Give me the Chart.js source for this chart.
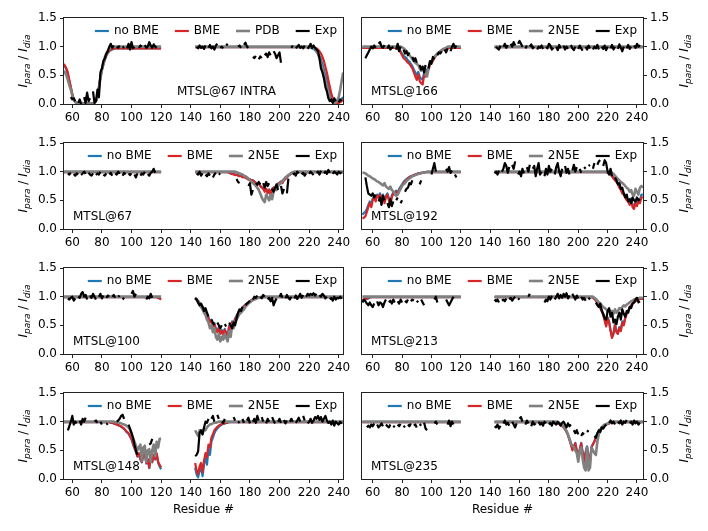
<!DOCTYPE html>
<html lang="en">
<head>
<meta charset="UTF-8" />
<title>PRE profiles</title>
<script src="https://cdn.jsdelivr.net/npm/chart.js"></script>
<style>
  html, body { margin: 0; padding: 0; background: #fff; }
  #wrap { position: relative; width: 708px; height: 531px; }
  #wrap canvas { position: absolute; }
  #problems { position: absolute; left: 0; top: 0; color: red; font: 12px sans-serif; }
</style>
</head>
<body>
<div id="wrap"></div>
<div id="problems"></div>
<script>
const _ = null;

// residues 53..120 (segment A) and 143..244 (segment B); 121..142 not covered
const xTicks = [60, 80, 100, 120, 140, 160, 180, 200, 220, 240];
const yTicks = [0, 0.5, 1.0, 1.5];
const GAP = Array(22).fill(null);
const residues = [];
for (let r = 53; r <= 244; r++) residues.push(r);

const problems = [];
function seg(name, a, b) {
  if (a.length !== 68 || b.length !== 102) problems.push(name + ': ' + a.length + '/' + b.length);
  return a.concat(GAP, b);
}

// ---- MTSL@67 INTRA ----
const p1NoBme = seg('p1NoBme', [.7,.68,
  .66,.6,.52,.4,.28,.17,.08,.03,.02,.01,
  .01,.01,.01,.01,.01,.01,.01,.01,.01,.01,
  .02,.05,.14,.28,.46,.58,.68,.77,.84,.89,
  .92,.94,.95,.96,.97,.97,.97,.97,.97,.97,
  .97,.97,.97,.97,.97,.97,.97,.97,.97,.97,
  .97,.97,.97,.97,.97,.97,.97,.97,.97,.97,
  .97,.97,.97,.97,.97,.97], [
  .99,.99,.99,.99,.99,.99,.99,.99,.99,.99,
  .99,.99,.99,.99,.99,.99,.99,.99,.99,.99,
  .99,.99,.99,.99,.99,.99,.99,.99,.99,.99,
  .99,.99,.99,.99,.99,.99,.99,.99,.99,.99,
  .99,.99,.99,.99,.99,.99,.99,.99,.99,.99,
  .99,.99,.99,.99,.99,.99,.99,.99,.99,.99,
  .99,.99,.99,.99,.99,.99,.99,.99,.99,.99,
  .99,.99,.99,.99,.99,.99,.99,.99,.98,.97,
  .96,.94,.91,.88,.84,.78,.7,.6,.5,.4,
  .3,.2,.12,.07,.04,.03,.03,.04,.06,.09,
  .12,.15]);
const p1Bme = seg('p1Bme', [.72,.7,
  .67,.62,.55,.42,.3,.18,.08,.03,.02,.01,
  .01,.01,.01,.01,.01,.01,.01,.01,.01,.01,
  .02,.05,.15,.3,.48,.6,.7,.78,.85,.9,
  .93,.95,.96,.97,.97,.97,.97,.97,.97,.97,
  .97,.97,.97,.97,.97,.97,.97,.97,.97,.97,
  .97,.97,.97,.97,.97,.97,.97,.97,.97,.97,
  .97,.97,.97,.97,.97,.97], [
  .99,.99,.99,.99,.99,.99,.99,.99,.99,.99,
  .99,.99,.99,.99,.99,.99,.99,.99,.99,.99,
  .99,.99,.99,.99,.99,.99,.99,.99,.99,.99,
  .99,.99,.99,.99,.99,.99,.99,.99,.99,.99,
  .99,.99,.99,.99,.99,.99,.99,.99,.99,.99,
  .99,.99,.99,.99,.99,.99,.99,.99,.99,.99,
  .99,.99,.99,.99,.99,.99,.99,.99,.99,.99,
  .99,.99,.99,.99,.99,.99,.99,.99,.99,.99,
  .99,.98,.97,.95,.92,.88,.82,.75,.65,.55,
  .42,.3,.18,.1,.05,.03,.02,.02,.03,.05,
  .08,.1]);
const p1Ref = seg('p1Ref', [.6,.58,
  .55,.5,.42,.33,.25,.15,.08,.04,.02,.01,
  .01,.01,.02,.01,.01,.01,.02,.01,.01,.01,
  .02,.05,.12,.28,.45,.6,.72,.82,.88,.93,
  .96,.98,1,1,1,1,1,1,1,1,
  1,1,1,1,1,1,1,1,1,1,
  1,1,1,1,1,1,1,1,1,1,
  1,1,1,1,1,1], [
  1,1,1,1,1,1,1,1,1,1,
  1,1,1,1,1,1,1,1,1,1,
  1,1,1,1,1,1,1,1,1,1,
  1,1,1,1,1,1,1,1,1,1,
  1,1,1,1,1,1,1,1,1,1,
  1,1,1,1,1,1,1,1,1,1,
  1,1,1,1,1,1,1,1,1,1,
  1,1,1,1,1,1,1,1,1,1,
  .98,.96,.92,.87,.8,.72,.62,.5,.4,.3,
  .2,.12,.06,.03,.02,.03,.06,.12,.25,.4,
  .55,.62]);
const p1Exp = seg('p1Exp', [_,_,
  _,_,_,_,.12,.08,.1,.05,_,.02,
  .08,0,_,.12,.02,.2,.05,.1,_,.22,
  .02,.05,.25,.12,.55,.62,.75,.8,.88,.92,
  1,1.05,.98,1.02,_,1,.98,1.02,_,.98,
  1,_,.97,1.05,.95,1.08,.97,1,_,_,
  .98,1.02,1,_,1.03,.98,1,1.08,1.02,.98,
  1.04,1,.98,_,_,_], [
  _,1,.97,1.02,.98,1,.96,1.02,_,.98,
  1.03,.97,1,.95,1.02,1.05,_,.98,1,.97,
  _,1.02,1.05,_,_,_,_,_,_,1,
  1.02,.98,_,1.03,1.07,1,.98,_,_,.82,
  .8,.84,_,.78,.83,.8,_,.85,.88,.82,
  .9,.85,_,.92,.88,.8,.85,.9,.72,_,
  _,_,_,_,_,.98,1.02,_,.97,1,
  1.03,.98,1,.97,1.02,_,.96,1,1.05,.98,
  1.02,.98,.95,.92,.8,.62,.55,.45,.3,.22,
  .1,.05,.08,.02,.1,.05,_,.03,.08,.05,
  _,_]);

// ---- MTSL@166 ----
const p2NoBme = seg('p2NoBme', [.98,.98,
  .98,.98,.98,.98,.98,.98,.98,.98,.98,.98,
  .98,.98,.98,.98,.98,.98,.98,.98,.98,.98,
  .98,.97,.96,.95,.92,.88,.84,.82,.8,.76,
  .74,.7,.66,.6,.55,.5,.56,.48,.44,.42,
  .55,.52,.6,.62,.7,.74,.77,.82,.85,.88,
  .9,.92,.94,.95,.96,.97,.98,.98,.98,.98,
  .98,.98,.98,.98,.98,.98], [
  .99,.99,.99,.99,.99,.99,.99,.99,.99,.99,
  .99,.99,.99,.99,.99,.99,.99,.99,.99,.99,
  .99,.99,.99,.99,.99,.99,.99,.99,.99,.99,
  .99,.99,.99,.99,.99,.99,.99,.99,.99,.99,
  .99,.99,.99,.99,.99,.99,.99,.99,.99,.99,
  .99,.99,.99,.99,.99,.99,.99,.99,.99,.99,
  .99,.99,.99,.99,.99,.99,.99,.99,.99,.99,
  .99,.99,.99,.99,.99,.99,.99,.99,.99,.99,
  .99,.99,.99,.99,.99,.99,.99,.99,.99,.99,
  .99,.99,.99,.99,.99,.99,.99,.99,.99,.99,
  .99,.99]);
const p2Bme = seg('p2Bme', [.98,.98,
  .98,.98,.98,.98,.98,.98,.98,.98,.98,.98,
  .98,.98,.98,.98,.98,.98,.98,.98,.98,.98,
  .98,.97,.96,.94,.9,.85,.8,.78,.75,.72,
  .7,.66,.62,.55,.48,.42,.52,.4,.36,.34,
  .5,.48,.55,.6,.68,.72,.75,.8,.84,.87,
  .9,.92,.93,.95,.96,.97,.97,.98,.98,.98,
  .98,.98,.98,.98,.98,.98], [
  .99,.99,.99,.99,.99,.99,.99,.99,.99,.99,
  .99,.99,.99,.99,.99,.99,.99,.99,.99,.99,
  .99,.99,.99,.99,.99,.99,.99,.99,.99,.99,
  .99,.99,.99,.99,.99,.99,.99,.99,.99,.99,
  .99,.99,.99,.99,.99,.99,.99,.99,.99,.99,
  .99,.99,.99,.99,.99,.99,.99,.99,.99,.99,
  .99,.99,.99,.99,.99,.99,.99,.99,.99,.99,
  .99,.99,.99,.99,.99,.99,.99,.99,.99,.99,
  .99,.99,.99,.99,.99,.99,.99,.99,.99,.99,
  .99,.99,.99,.99,.99,.99,.99,.99,.99,.99,
  .99,.99]);
const p2Ref = seg('p2Ref', [1,1,
  1,1,1,1,1,1,1,1,1,1,
  1,1,1,1,1,1,1,1,1,1,
  1,1,1,1,1,.99,.97,.95,.92,.88,
  .85,.82,.78,.75,.72,.7,.68,.62,.58,.65,
  .6,.52,.48,.62,.72,.75,.78,.82,.85,.88,
  .9,.92,.94,.96,.97,.98,1,1,1,1,
  1,1,1,1,1,1], [
  1,1,1,1,1,1,1,1,1,1,
  1,1,1,1,1,1,1,1,1,1,
  1,1,1,1,1,1,1,1,1,1,
  1,1,1,1,1,1,1,1,1,1,
  1,1,1,1,1,1,1,1,1,1,
  1,1,1,1,1,1,1,1,1,1,
  1,1,1,1,1,1,1,1,1,1,
  1,1,1,1,1,1,1,1,1,1,
  1,1,1,1,1,1,1,1,1,1,
  1,1,1,1,1,1,1,1,1,1,
  1,1]);
const p2Exp = seg('p2Exp', [_,_,
  .8,.85,.9,.95,1,.97,1.02,.98,_,1.05,
  1.08,1,.98,1.03,_,.97,1.02,.95,.98,1,
  _,.95,1.05,.92,1,_,.95,.88,.92,.85,
  .9,_,.82,.75,.8,.72,_,.68,.6,.65,
  .55,.68,_,.62,.75,.7,.82,.78,_,.85,
  .9,.88,.92,_,.95,.9,.97,_,.92,1,
  1.05,.98,1.02,_,_,_], [
  _,1,.97,.95,1.02,_,1,1.05,.98,1.03,
  _,1.05,1,1.08,1.02,_,1.05,1.1,1.05,1,
  _,.97,1.02,_,1,1.04,.97,1,_,.95,
  1,.98,1.02,.96,_,1,.97,1.05,1.02,.95,
  .98,_,1,.94,1.03,.97,_,1.02,.95,1,
  .96,_,1.03,.97,.94,1,_,.96,1.02,.97,
  .93,_,1,.95,1.02,.97,_,.95,1,.97,
  1.03,.95,_,1,.96,1.02,.94,1,_,.97,
  1.03,.95,1,_,.96,1.04,.98,.92,1,_,
  .97,1.03,.96,1,_,1.02,.98,1.05,1,1.03,
  _,_]);

// ---- MTSL@67 ----
const p3NoBme = seg('p3NoBme', [.99,.99,
  .99,.99,.99,.99,.99,.99,.99,.99,.99,.99,
  .99,.99,.99,.99,.99,.99,.99,.99,.99,.99,
  .99,.99,.99,.99,.99,.99,.99,.99,.99,.99,
  .99,.99,.99,.99,.99,.99,.99,.99,.99,.99,
  .99,.99,.99,.99,.99,.99,.99,.99,.99,.99,
  .99,.99,.99,.99,.99,.99,.99,.99,.99,.99,
  .99,.99,.99,.99,.99,.99], [
  .99,.99,.99,.99,.99,.99,.99,.99,.99,.99,
  .99,.99,.99,.99,.99,.99,.99,.99,.99,.99,
  .99,.99,.99,.98,.97,.96,.96,.95,.95,.94,
  .93,.93,.91,.91,.9,.89,.87,.87,.85,.85,
  .83,.81,.79,.8,.76,.73,.71,.67,.7,.64,
  .69,.62,.7,.72,.7,.76,.79,.81,.83,.82,
  .86,.88,.9,.93,.95,.97,.98,.99,.99,.99,
  .99,.99,.99,.99,.99,.99,.99,.99,.99,.99,
  .99,.99,.99,.99,.99,.99,.99,.99,.99,.99,
  .99,.99,.99,.99,.99,.99,.99,.99,.99,.99,
  .99,.99]);
const p3Bme = seg('p3Bme', [.99,.99,
  .99,.99,.99,.99,.99,.99,.99,.99,.99,.99,
  .99,.99,.99,.99,.99,.99,.99,.99,.99,.99,
  .99,.99,.99,.99,.99,.99,.99,.99,.99,.99,
  .99,.99,.99,.99,.99,.99,.99,.99,.99,.99,
  .99,.99,.99,.99,.99,.99,.99,.99,.99,.99,
  .99,.99,.99,.99,.99,.99,.99,.99,.99,.99,
  .99,.99,.99,.99,.99,.99], [
  .99,.99,.99,.99,.99,.99,.99,.99,.99,.99,
  .99,.99,.99,.99,.99,.99,.99,.99,.99,.99,
  .99,.99,.99,.98,.97,.96,.95,.94,.95,.93,
  .92,.93,.9,.91,.89,.88,.86,.87,.84,.85,
  .82,.8,.78,.8,.75,.72,.7,.65,.7,.62,
  .68,.6,.7,.72,.68,.75,.78,.8,.82,.8,
  .85,.87,.9,.93,.95,.97,.98,.99,.99,.99,
  .99,.99,.99,.99,.99,.99,.99,.99,.99,.99,
  .99,.99,.99,.99,.99,.99,.99,.99,.99,.99,
  .99,.99,.99,.99,.99,.99,.99,.99,.99,.99,
  .99,.99]);
const p3Ref = seg('p3Ref', [1,1,
  1,1,1,1,1,1,1,1,1,1,
  1,1,1,1,1,1,1,1,1,1,
  1,1,1,1,1,1,1,1,1,1,
  1,1,1,1,1,1,1,1,1,1,
  1,1,1,1,1,1,1,1,1,1,
  1,1,1,1,1,1,1,1,1,1,
  1,1,1,1,1,1], [
  1,1,1,1,1,1,1,1,1,1,
  1,1,1,1,1,1,1,1,1,1,
  1,1,1,1,1,1,1,1,.99,.98,
  .97,.96,.95,.93,.92,.9,.88,.85,.82,.8,
  .78,.75,.72,.68,.62,.55,.5,.47,.6,.55,
  .5,.6,.52,.65,.7,.68,.75,.78,.8,.84,
  .87,.9,.92,.94,.96,.98,.99,1,1,1,
  1,1,1,1,1,1,1,1,1,1,
  1,1,1,1,1,1,1,1,1,1,
  1,1,1,1,1,1,1,1,1,1,
  1,1]);
const p3Exp = seg('p3Exp', [_,_,
  _,_,.97,.95,.98,_,.96,.93,.97,.95,
  _,.94,.97,1,.96,_,.98,.95,.93,.97,
  _,.94,.97,.95,1,_,.95,.93,.97,_,
  .95,.98,.93,_,.97,.95,1,.96,_,.93,
  .98,.95,_,.97,.94,.97,_,.95,.9,.97,
  _,.93,.97,.95,1,_,.96,.93,.98,1,
  1.05,.98,_,_,_,_], [
  _,.97,.95,1,.93,.97,_,.95,.92,.97,
  .93,_,.9,.95,.98,_,.97,.95,_,_,
  _,_,_,_,_,_,_,_,.87,.82,
  .8,_,_,_,_,_,.75,.8,.6,.68,
  _,.8,.77,.82,.78,_,.8,.72,.82,.75,
  .8,_,.7,.65,.72,.78,.68,_,.75,.62,
  .7,_,.62,.88,_,_,.95,.97,.93,1,
  .97,_,.95,.98,.93,.97,_,.96,1,.97,
  .94,_,.98,1,.95,1.02,_,.97,1,.96,
  1.03,.98,_,.96,1,.98,.95,1,.97,.99,
  _,_]);

// ---- MTSL@192 ----
const p4NoBme = seg('p4NoBme', [.25,.28,
  .3,.35,.42,.48,.42,.53,.57,.52,.6,.58,
  .62,.54,.6,.5,.58,.62,.54,.48,.58,.64,
  .63,.67,.63,.7,.74,.78,.82,.85,.87,.89,
  .91,.92,.93,.94,.95,.96,.97,.97,.98,.98,
  .99,.99,.99,.99,.99,.99,.99,.99,.99,.99,
  .99,.99,.99,.99,.99,.99,.99,.99,.99,.99,
  .99,.99,.99,.99,.99,.99], [
  .99,.99,.99,.99,.99,.99,.99,.99,.99,.99,
  .99,.99,.99,.99,.99,.99,.99,.99,.99,.99,
  .99,.99,.99,.99,.99,.99,.99,.99,.99,.99,
  .99,.99,.99,.99,.99,.99,.99,.99,.99,.99,
  .99,.99,.99,.99,.99,.99,.99,.99,.99,.99,
  .99,.99,.99,.99,.99,.99,.99,.99,.99,.99,
  .99,.99,.99,.99,.99,.99,.99,.99,.99,.99,
  .99,.99,.99,.99,.99,.99,.99,.98,.97,.96,
  .93,.9,.87,.84,.8,.75,.7,.65,.62,.58,
  .54,.5,.46,.53,.42,.4,.48,.44,.52,.5,
  .6,.6]);
const p4Bme = seg('p4Bme', [.18,.2,
  .22,.3,.38,.45,.38,.5,.55,.48,.58,.55,
  .6,.5,.58,.45,.55,.6,.5,.42,.55,.62,
  .6,.65,.6,.68,.72,.76,.8,.83,.86,.88,
  .9,.92,.93,.94,.95,.96,.97,.97,.98,.98,
  .99,.99,.99,.99,.99,.99,.99,.99,.99,.99,
  .99,.99,.99,.99,.99,.99,.99,.99,.99,.99,
  .99,.99,.99,.99,.99,.99], [
  .99,.99,.99,.99,.99,.99,.99,.99,.99,.99,
  .99,.99,.99,.99,.99,.99,.99,.99,.99,.99,
  .99,.99,.99,.99,.99,.99,.99,.99,.99,.99,
  .99,.99,.99,.99,.99,.99,.99,.99,.99,.99,
  .99,.99,.99,.99,.99,.99,.99,.99,.99,.99,
  .99,.99,.99,.99,.99,.99,.99,.99,.99,.99,
  .99,.99,.99,.99,.99,.99,.99,.99,.99,.99,
  .99,.99,.99,.99,.99,.99,.99,.98,.97,.95,
  .92,.88,.85,.82,.78,.72,.68,.62,.6,.55,
  .5,.48,.42,.5,.38,.35,.45,.4,.48,.45,
  .55,.55]);
const p4Ref = seg('p4Ref', [.98,.98,
  .97,.95,.93,.92,.9,.88,.87,.85,.83,.82,
  .8,.78,.76,.8,.74,.72,.7,.74,.68,.66,
  .62,.58,.6,.65,.7,.75,.78,.8,.84,.86,
  .88,.9,.92,.93,.94,.95,.96,.97,.97,.98,
  .98,.99,1,1,1,1,1,1,1,1,
  1,1,1,1,1,1,1,1,1,1,
  1,1,1,1,1,1], [
  1,1,1,1,1,1,1,1,1,1,
  1,1,1,1,1,1,1,1,1,1,
  1,1,1,1,1,1,1,1,1,1,
  1,1,1,1,1,1,1,1,1,1,
  1,1,1,1,1,1,1,1,1,1,
  1,1,1,1,1,1,1,1,1,1,
  1,1,1,1,1,1,1,1,1,1,
  1,1,1,1,1,1,1,1,1,.99,
  .98,.96,.93,.9,.87,.85,.82,.8,.78,.75,
  .72,.7,.65,.68,.6,.58,.7,.65,.6,.72,
  .75,.72]);
const p4Exp = seg('p4Exp', [_,_,
  .9,.75,.62,.6,.58,.62,.55,.6,_,.48,
  .55,.42,.58,.5,_,.45,.38,.52,.4,.48,
  _,.5,.55,_,.45,.5,_,.65,.7,.72,
  .8,.78,.85,_,_,_,_,.78,.85,_,
  _,_,_,_,_,.95,1.05,1.15,1,_,
  _,_,_,_,_,1.05,1,1.08,.98,1.02,
  _,.95,.9,_,_,_], [
  .97,1,.95,1.02,_,1,1.05,1.15,1.1,.98,
  1.08,_,1.12,1.05,1.18,_,.95,1,.92,1.05,
  .97,_,1.08,1,1.12,_,1.05,1.1,.92,1.05,
  1.15,.95,1,_,.92,1.05,.95,1.1,1,1.05,
  _,.95,1.08,1.15,1,.92,1.05,_,1.1,.98,
  1.05,.95,_,1.02,1.12,1,1.08,_,1.05,.98,
  _,1.08,1.05,_,1.1,1.12,_,1.05,1.15,_,
  1.12,1.18,1.2,_,1.1,1.2,1.15,1,.95,1.05,
  .92,_,.9,.85,.78,.8,.7,.72,.62,.55,
  .6,.48,.52,.45,.55,.5,.48,.55,.5,.52,
  _,_]);

// ---- MTSL@100 ----
const p5NoBme = seg('p5NoBme', [.99,.99,
  .99,.99,.99,.99,.99,.99,.99,.99,.99,.99,
  .99,.99,.99,.99,.99,.99,.99,.99,.99,.99,
  .99,.99,.99,.99,.99,.99,.99,.99,.99,.99,
  .99,.99,.99,.99,.99,.99,.99,.99,.99,.99,
  .99,.99,.99,.99,.99,.99,.99,.99,.99,.99,
  .99,.99,.99,.99,.99,.99,.99,.99,.99,.99,
  .99,.99,.99,.98,.97,.96], [
  .98,.96,.93,.89,.86,.83,.79,.75,.7,.64,
  .57,.6,.5,.54,.44,.4,.47,.37,.42,.35,
  .44,.37,.32,.5,.42,.57,.54,.62,.67,.71,
  .75,.78,.81,.84,.86,.88,.9,.92,.94,.95,
  .96,.97,.98,.99,.99,.99,.99,.99,.99,.99,
  .99,.99,.99,.99,.99,.99,.99,.99,.99,.99,
  .99,.99,.99,.99,.99,.99,.99,.99,.99,.99,
  .99,.99,.99,.99,.99,.99,.99,.99,.99,.99,
  .99,.99,.99,.99,.99,.99,.99,.99,.99,.99,
  .99,.99,.99,.99,.99,.99,.99,.99,.99,.99,
  .99,.99]);
const p5Bme = seg('p5Bme', [.99,.99,
  .99,.99,.99,.99,.99,.99,.99,.99,.99,.99,
  .99,.99,.99,.99,.99,.99,.99,.99,.99,.99,
  .99,.99,.99,.99,.99,.99,.99,.99,.99,.99,
  .99,.99,.99,.99,.99,.99,.99,.99,.99,.99,
  .99,.99,.99,.99,.99,.99,.99,.99,.99,.99,
  .99,.99,.99,.99,.99,.99,.99,.99,.99,.99,
  .99,.99,.99,.98,.97,.95], [
  .98,.96,.92,.88,.85,.82,.78,.74,.68,.62,
  .55,.58,.48,.52,.42,.38,.45,.35,.4,.33,
  .42,.35,.3,.48,.4,.55,.52,.6,.65,.7,
  .74,.77,.8,.83,.86,.88,.9,.92,.94,.95,
  .96,.97,.98,.99,.99,.99,.99,.99,.99,.99,
  .99,.99,.99,.99,.99,.99,.99,.99,.99,.99,
  .99,.99,.99,.99,.99,.99,.99,.99,.99,.99,
  .99,.99,.99,.99,.99,.99,.99,.99,.99,.99,
  .99,.99,.99,.99,.99,.99,.99,.99,.99,.99,
  .99,.99,.99,.99,.99,.99,.99,.99,.99,.99,
  .99,.99]);
const p5Ref = seg('p5Ref', [1,1,
  1,1,1,1,1,1,1,1,1,1,
  1,1,1,1,1,1,1,1,1,1,
  1,1,1,1,1,1,1,1,1,1,
  1,1,1,1,1,1,1,1,1,1,
  1,1,1,1,1,1,1,1,1,1,
  1,1,1,1,1,1,1,1,1,1,
  1,1,1,1,1,1], [
  .98,.95,.9,.85,.82,.78,.72,.68,.6,.55,
  .45,.5,.38,.45,.3,.25,.35,.22,.3,.25,
  .35,.28,.22,.4,.3,.5,.45,.55,.6,.65,
  .7,.72,.75,.78,.82,.85,.88,.9,.92,.94,
  .95,.96,.97,.98,.99,1,1,1,1,1,
  1,1,1,1,1,1,1,1,1,1,
  1,1,1,1,1,1,1,1,1,1,
  1,1,1,1,1,1,1,1,1,1,
  1,1,1,1,1,1,1,1,1,1,
  1,1,1,1,1,1,1,1,1,1,
  1,1]);
const p5Exp = seg('p5Exp', [_,_,
  _,_,.97,.95,.98,1,.93,.97,_,1,
  .98,1.05,1.08,1,1.03,.95,_,1.02,.98,1.05,
  1,.95,_,1,1.05,.97,1.02,_,.98,1.02,
  1,_,1,1.03,.98,_,1,1.02,_,.95,
  .98,_,_,_,_,1.05,1.1,1,1.05,_,
  _,_,_,_,_,.95,1,.97,1.05,.98,
  _,_,_,_,_,_], [
  .97,.95,.9,.85,.88,.82,.75,.8,.72,.65,
  _,.6,.55,.5,_,.55,.5,.45,.5,_,
  .52,.48,_,.55,.5,.45,.55,.5,.62,.72,
  .78,.75,.82,_,.85,.88,.9,.93,_,.95,
  1,.98,1.02,_,1,.97,1.03,1,_,.95,
  .98,.92,.98,.85,.92,.97,_,1,1.05,.98,
  _,.97,1.03,.98,.95,1,_,.97,1.02,.96,
  1,1.05,.98,1.03,_,1,1.05,1.02,1.05,1.03,
  1.06,1.02,1.05,_,1.03,1,1.05,1.02,.97,1,
  _,.95,.98,.93,1,.95,.98,.97,1,.96,
  _,_]);

// ---- MTSL@213 ----
const p6NoBme = seg('p6NoBme', [.93,.94,
  .95,.96,.97,.98,.99,.99,.99,.99,.99,.99,
  .99,.99,.99,.99,.99,.99,.99,.99,.99,.99,
  .99,.99,.99,.99,.99,.99,.99,.99,.99,.99,
  .99,.99,.99,.99,.99,.99,.99,.99,.99,.99,
  .99,.99,.99,.99,.99,.99,.99,.99,.99,.99,
  .99,.99,.99,.99,.99,.99,.99,.99,.99,.99,
  .99,.99,.99,.99,.99,.99], [
  .99,.99,.99,.99,.99,.99,.99,.99,.99,.99,
  .99,.99,.99,.99,.99,.99,.99,.99,.99,.99,
  .99,.99,.99,.99,.99,.99,.99,.99,.99,.99,
  .99,.99,.99,.99,.99,.99,.99,.99,.99,.99,
  .99,.99,.99,.99,.99,.99,.99,.99,.99,.99,
  .99,.99,.99,.99,.99,.99,.99,.99,.99,.99,
  .99,.99,.99,.99,.99,.99,.99,.98,.97,.94,
  .91,.87,.82,.77,.7,.6,.5,.64,.57,.42,
  .3,.37,.52,.4,.37,.47,.42,.57,.52,.64,
  .71,.76,.81,.85,.88,.9,.92,.94,.95,.96,
  .96,.96]);
const p6Bme = seg('p6Bme', [.95,.95,
  .96,.97,.98,.99,.99,.99,.99,.99,.99,.99,
  .99,.99,.99,.99,.99,.99,.99,.99,.99,.99,
  .99,.99,.99,.99,.99,.99,.99,.99,.99,.99,
  .99,.99,.99,.99,.99,.99,.99,.99,.99,.99,
  .99,.99,.99,.99,.99,.99,.99,.99,.99,.99,
  .99,.99,.99,.99,.99,.99,.99,.99,.99,.99,
  .99,.99,.99,.99,.99,.99], [
  .99,.99,.99,.99,.99,.99,.99,.99,.99,.99,
  .99,.99,.99,.99,.99,.99,.99,.99,.99,.99,
  .99,.99,.99,.99,.99,.99,.99,.99,.99,.99,
  .99,.99,.99,.99,.99,.99,.99,.99,.99,.99,
  .99,.99,.99,.99,.99,.99,.99,.99,.99,.99,
  .99,.99,.99,.99,.99,.99,.99,.99,.99,.99,
  .99,.99,.99,.99,.99,.99,.99,.98,.96,.93,
  .9,.86,.8,.75,.68,.58,.48,.62,.55,.4,
  .28,.35,.5,.38,.35,.45,.4,.55,.5,.62,
  .7,.75,.8,.85,.88,.9,.92,.94,.95,.96,
  .96,.96]);
const p6Ref = seg('p6Ref', [1,1,
  1,1,1,1,1,1,1,1,1,1,
  1,1,1,1,1,1,1,1,1,1,
  1,1,1,1,1,1,1,1,1,1,
  1,1,1,1,1,1,1,1,1,1,
  1,1,1,1,1,1,1,1,1,1,
  1,1,1,1,1,1,1,1,1,1,
  1,1,1,1,1,1], [
  1,1,1,1,1,1,1,1,1,1,
  1,1,1,1,1,1,1,1,1,1,
  1,1,1,1,1,1,1,1,1,1,
  1,1,1,1,1,1,1,1,1,1,
  1,1,1,1,1,1,1,1,1,1,
  1,1,1,1,1,1,1,1,1,1,
  1,1,1,1,1,1,1,1,.98,.96,
  .93,.9,.88,.85,.82,.8,.78,.75,.78,.72,
  .75,.7,.78,.72,.75,.8,.78,.82,.85,.83,
  .86,.88,.9,.92,.93,.95,.96,.97,.97,.98,
  .98,.98]);
const p6Exp = seg('p6Exp', [.9,.95,
  .92,.88,.85,.9,.85,.82,.88,_,.92,.85,
  .9,.88,.82,.9,.95,_,.9,.93,.88,.95,
  .9,_,.92,.88,.95,.9,_,.93,.9,.95,
  _,.92,.95,.93,_,.9,.93,_,.95,.9,
  .85,_,_,_,_,_,_,.95,1,.9,
  _,_,_,_,_,.95,.9,.85,.9,.95,
  1,_,_,_,_,_], [
  .95,.92,.95,.9,_,.93,.95,.92,.97,_,
  .95,.98,.93,.97,1,_,.97,.95,_,_,
  _,_,_,1,1.05,_,_,_,_,_,
  _,_,_,_,.9,.95,.92,1,.95,1.02,
  _,.95,1,1.05,.97,1.03,.98,1.05,1,1.06,
  .97,1.02,_,1.05,1,.95,1.02,.97,_,1,
  .95,.98,.93,_,.98,.95,_,.95,_,.9,
  .85,.82,.88,.75,.7,.62,.6,.75,.8,.65,
  .72,.55,.6,.52,.65,.72,.6,.78,.7,.65,
  .75,.72,.82,.8,.88,.9,.95,.98,.9,.92,
  _,_]);

// ---- MTSL@148 ----
const p7NoBme = seg('p7NoBme', [.99,.99,
  .99,.99,.99,.99,.99,.99,.99,.99,.99,.99,
  .99,.99,.99,.99,.99,.99,.99,.99,.99,.99,
  .99,.99,.99,.99,.99,.99,.99,.99,.99,.99,
  .99,.98,.98,.97,.96,.95,.94,.93,.91,.89,
  .87,.84,.81,.79,.74,.69,.61,.54,.47,.39,
  .44,.34,.29,.41,.44,.27,.34,.19,.37,.29,
  .41,.34,.44,.28,.22,.17], [
  .2,.08,.03,.15,.2,.05,.25,.4,.25,.52,
  .42,.65,.72,.8,.85,.88,.91,.93,.95,.96,
  .97,.98,.98,.99,.99,.99,.99,.99,.99,.99,
  .99,.99,.99,.99,.99,.99,.99,.99,.99,.99,
  .99,.99,.99,.99,.99,.99,.99,.99,.99,.99,
  .99,.99,.99,.99,.99,.99,.99,.99,.99,.99,
  .99,.99,.99,.99,.99,.99,.99,.99,.99,.99,
  .99,.99,.99,.99,.99,.99,.99,.99,.99,.99,
  .99,.99,.99,.99,.99,.99,.99,.99,.99,.99,
  .99,.99,.99,.99,.99,.99,.99,.99,.99,.99,
  .99,.99]);
const p7Bme = seg('p7Bme', [.99,.99,
  .99,.99,.99,.99,.99,.99,.99,.99,.99,.99,
  .99,.99,.99,.99,.99,.99,.99,.99,.99,.99,
  .99,.99,.99,.99,.99,.99,.99,.99,.99,.99,
  .99,.98,.98,.97,.96,.95,.94,.93,.92,.9,
  .88,.85,.82,.8,.75,.7,.62,.55,.48,.4,
  .45,.35,.3,.42,.45,.28,.35,.2,.38,.3,
  .42,.35,.45,.3,.25,.2], [
  .28,.15,.08,.22,.28,.12,.32,.45,.38,.6,
  .55,.72,.78,.85,.88,.91,.93,.95,.96,.97,
  .97,.98,.99,.99,.99,.99,.99,.99,.99,.99,
  .99,.99,.99,.99,.99,.99,.99,.99,.99,.99,
  .99,.99,.99,.99,.99,.99,.99,.99,.99,.99,
  .99,.99,.99,.99,.99,.99,.99,.99,.99,.99,
  .99,.99,.99,.99,.99,.99,.99,.99,.99,.99,
  .99,.99,.99,.99,.99,.99,.99,.99,.99,.99,
  .99,.99,.99,.99,.99,.99,.99,.99,.99,.99,
  .99,.99,.99,.99,.99,.99,.99,.99,.99,.99,
  .99,.99]);
const p7Ref = seg('p7Ref', [1,1,
  1,1,1,1,1,1,1,1,1,1,
  1,1,1,1,1,1,1,1,1,1,
  1,1,1,1,1,1,1,1,1,1,
  1,1,1,1,.99,.99,.98,.98,.97,.96,
  .95,.94,.92,.9,.86,.8,.72,.65,.58,.5,
  .55,.6,.32,.55,.58,.3,.5,.52,.3,.5,
  .6,.4,.65,.55,.7,.7], [
  .85,.8,.75,.85,.82,.78,.88,.85,.9,.93,
  .95,.96,.97,.98,.98,.99,1,1,1,1,
  1,1,1,1,1,1,1,1,1,1,
  1,1,1,1,1,1,1,1,1,1,
  1,1,1,1,1,1,1,1,1,1,
  1,1,1,1,1,1,1,1,1,1,
  1,1,1,1,1,1,1,1,1,1,
  1,1,1,1,1,1,1,1,1,1,
  1,1,1,1,1,1,1,1,1,1,
  1,1,1,1,1,1,1,1,1,1,
  1,1]);
const p7Exp = seg('p7Exp', [_,_,
  _,_,.85,.92,1,1.1,.95,1,.97,_,
  1.02,.95,1.05,1,1.07,_,_,_,_,_,
  1,1.02,.98,_,1,.95,_,_,.95,.97,
  _,_,_,_,_,1,1.02,1.05,1.1,1.12,
  1.05,_,_,.95,.88,.8,.72,.6,.5,.42,
  _,_,_,_,_,_,_,.6,.62,.7,
  _,_,_,_,_,_], [
  .4,.42,.48,.8,.85,.78,.9,1,.98,1.05,
  _,1.05,1.1,1,_,1.12,1.05,_,1,.98,
  1.05,_,_,_,_,_,1.08,1.02,_,.98,
  1,_,1.05,.98,_,1.02,1.07,.97,_,1,
  1.05,.98,1.1,1.02,_,1.08,1,_,.97,1.05,
  1,_,1.08,1.02,.97,_,1,1.05,.98,_,
  1.03,.97,1.02,_,1,1.05,1,_,.98,1.02,
  1.07,1,_,1.1,1.02,_,.97,1,1.05,.98,
  1.02,1.08,1.05,1.1,1.03,1.08,1,1.05,1.1,1.02,
  .98,1,.95,1.02,.93,1,.97,.95,1,.96,
  _,_]);

// ---- MTSL@235 ----
const p8NoBme = seg('p8NoBme', [.99,.99,
  .99,.99,.99,.99,.99,.99,.99,.99,.99,.99,
  .99,.99,.99,.99,.99,.99,.99,.99,.99,.99,
  .99,.99,.99,.99,.99,.99,.99,.99,.99,.99,
  .99,.99,.99,.99,.99,.99,.99,.99,.99,.99,
  .99,.99,.99,.99,.99,.99,.99,.99,.99,.99,
  .99,.99,.99,.99,.99,.99,.99,.99,.99,.99,
  .99,.99,.99,.99,.99,.99], [
  .99,.99,.99,.99,.99,.99,.99,.99,.99,.99,
  .99,.99,.99,.99,.99,.99,.99,.99,.99,.99,
  .99,.99,.99,.99,.99,.99,.99,.99,.99,.99,
  .99,.99,.99,.99,.99,.99,.99,.99,.99,.99,
  .99,.99,.98,.97,.96,.95,.93,.91,.87,.83,
  .77,.7,.62,.52,.57,.63,.5,.37,.52,.63,
  .47,.32,.47,.57,.38,.32,.56,.61,.66,.73,
  .79,.83,.87,.9,.92,.94,.95,.96,.97,.98,
  .99,.99,.99,.99,.99,.99,.99,.99,.99,.99,
  .99,.99,.99,.99,.99,.99,.99,.99,.99,.99,
  .99,.99]);
const p8Bme = seg('p8Bme', [.99,.99,
  .99,.99,.99,.99,.99,.99,.99,.99,.99,.99,
  .99,.99,.99,.99,.99,.99,.99,.99,.99,.99,
  .99,.99,.99,.99,.99,.99,.99,.99,.99,.99,
  .99,.99,.99,.99,.99,.99,.99,.99,.99,.99,
  .99,.99,.99,.99,.99,.99,.99,.99,.99,.99,
  .99,.99,.99,.99,.99,.99,.99,.99,.99,.99,
  .99,.99,.99,.99,.99,.99], [
  .99,.99,.99,.99,.99,.99,.99,.99,.99,.99,
  .99,.99,.99,.99,.99,.99,.99,.99,.99,.99,
  .99,.99,.99,.99,.99,.99,.99,.99,.99,.99,
  .99,.99,.99,.99,.99,.99,.99,.99,.99,.99,
  .99,.99,.98,.97,.96,.94,.92,.9,.86,.82,
  .76,.68,.6,.5,.55,.62,.48,.35,.5,.62,
  .45,.3,.45,.55,.35,.3,.55,.6,.65,.72,
  .78,.82,.86,.89,.91,.93,.95,.96,.97,.98,
  .99,.99,.99,.99,.99,.99,.99,.99,.99,.99,
  .99,.99,.99,.99,.99,.99,.99,.99,.99,.99,
  .99,.99]);
const p8Ref = seg('p8Ref', [1,1,
  1,1,1,1,1,1,1,1,1,1,
  1,1,1,1,1,1,1,1,1,1,
  1,1,1,1,1,1,1,1,1,1,
  1,1,1,1,1,1,1,1,1,1,
  1,1,1,1,1,1,1,1,1,1,
  1,1,1,1,1,1,1,1,1,1,
  1,1,1,1,1,1], [
  1,1,1,1,1,1,1,1,1,1,
  1,1,1,1,1,1,1,1,1,1,
  1,1,1,1,1,1,1,1,1,1,
  1,1,1,1,1,1,1,1,1,1,
  1,1,1,.99,.98,.96,.94,.92,.88,.84,
  .78,.7,.62,.58,.55,.5,.45,.3,.48,.55,
  .35,.2,.15,.55,.15,.2,.55,.5,.45,.42,
  .65,.78,.85,.9,.93,.95,.96,.97,.98,.99,
  1,1,1,1,1,1,1,1,1,1,
  1,1,1,1,1,1,1,1,1,1,
  1,1]);
const p8Exp = seg('p8Exp', [_,_,
  _,.9,.93,.9,.95,.92,.97,_,.95,.9,
  .93,.97,.92,_,.95,.92,.9,.95,_,.93,
  .9,_,.95,.92,.96,_,.93,.9,_,.95,
  .92,.97,_,.93,.95,.9,_,.96,.93,_,
  .98,.88,.85,_,_,_,_,.97,1,.95,
  _,_,_,_,_,_,.95,1.02,.92,1,
  .95,_,_,_,_,_], [
  .92,.9,.95,.88,.93,_,.97,1.02,.95,.98,
  .93,_,1,.95,.9,.97,_,1.05,1.08,1,
  _,.95,1.02,.97,_,.92,1,.95,.97,_,
  1,.95,.98,.93,1,.97,_,.95,.98,.93,
  1,.97,.95,1,.97,.93,.98,1,.95,.9,
  .97,.92,.95,_,.85,.8,.85,.78,_,.75,
  .8,.78,_,.82,.85,_,.8,_,.75,.72,
  .8,.85,.82,.9,.88,.92,.95,_,.98,1.02,
  .97,1,.95,_,1,.97,1.02,.95,1,.98,
  1.03,_,.97,1,.95,1.02,.97,1,.95,.98,
  _,_]);

if (problems.length) document.getElementById('problems').textContent = problems.join(' | ');

const panels = [
  { name: 'MTSL@67 INTRA', refLabel: 'PDB',  col: 0, row: 0, nameX: 113, noBme: p1NoBme, bme: p1Bme, ref: p1Ref, exp: p1Exp },
  { name: 'MTSL@166',      refLabel: '2N5E', col: 1, row: 0, noBme: p2NoBme, bme: p2Bme, ref: p2Ref, exp: p2Exp },
  { name: 'MTSL@67',       refLabel: '2N5E', col: 0, row: 1, noBme: p3NoBme, bme: p3Bme, ref: p3Ref, exp: p3Exp },
  { name: 'MTSL@192',      refLabel: '2N5E', col: 1, row: 1, noBme: p4NoBme, bme: p4Bme, ref: p4Ref, exp: p4Exp },
  { name: 'MTSL@100',      refLabel: '2N5E', col: 0, row: 2, noBme: p5NoBme, bme: p5Bme, ref: p5Ref, exp: p5Exp },
  { name: 'MTSL@213',      refLabel: '2N5E', col: 1, row: 2, noBme: p6NoBme, bme: p6Bme, ref: p6Ref, exp: p6Exp },
  { name: 'MTSL@148',      refLabel: '2N5E', col: 0, row: 3, noBme: p7NoBme, bme: p7Bme, ref: p7Ref, exp: p7Exp },
  { name: 'MTSL@235',      refLabel: '2N5E', col: 1, row: 3, noBme: p8NoBme, bme: p8Bme, ref: p8Ref, exp: p8Exp }
];

Chart.defaults.font.family = '"DejaVu Sans", sans-serif';
Chart.defaults.font.size = 12;
Chart.defaults.color = '#000';

function drawYTitle(ctx, cx, cy) {
  const parts = [
    { t: 'I', f: 'italic 12px "DejaVu Sans"', dy: 0 },
    { t: 'para', f: 'italic 9px "DejaVu Sans"', dy: 3 },
    { t: ' / ', f: '12px "DejaVu Sans"', dy: 0 },
    { t: 'I', f: 'italic 12px "DejaVu Sans"', dy: 0 },
    { t: 'dia', f: 'italic 9px "DejaVu Sans"', dy: 3 }
  ];
  let total = 0;
  parts.forEach(p => { ctx.font = p.f; p.w = ctx.measureText(p.t).width; total += p.w; });
  ctx.save();
  ctx.translate(cx, cy);
  ctx.rotate(-Math.PI / 2);
  ctx.fillStyle = '#000';
  ctx.textBaseline = 'alphabetic';
  ctx.textAlign = 'left';
  let x = -total / 2;
  parts.forEach(p => { ctx.font = p.f; ctx.fillText(p.t, x, 3.5 + p.dy); x += p.w; });
  ctx.restore();
}

const panelDecor = {
  id: 'panelDecor',
  afterDraw(chart, args, opts) {
    const { ctx, chartArea: a } = chart;
    ctx.save();
    // frame
    ctx.strokeStyle = '#222';
    ctx.lineWidth = 1;
    ctx.strokeRect(a.left - 0.5, a.top - 0.5, a.right - a.left + 1, a.bottom - a.top + 1);
    // legend, right aligned inside the top of the axes
    ctx.font = '12px "DejaVu Sans"';
    ctx.textBaseline = 'middle';
    ctx.textAlign = 'left';
    const ly = a.top + 13;
    let x = a.right - 6;
    const ds = chart.data.datasets;
    for (let i = ds.length - 1; i >= 0; i--) {
      const d = ds[i];
      const tw = ctx.measureText(d.label).width;
      x -= tw;
      ctx.fillStyle = '#000';
      ctx.fillText(d.label, x, ly);
      x -= 5;
      ctx.strokeStyle = d.borderColor;
      ctx.lineWidth = d.borderWidth;
      ctx.beginPath();
      ctx.moveTo(x - 14, ly);
      ctx.lineTo(x, ly);
      ctx.stroke();
      x -= 14 + 16;
    }
    // panel name
    ctx.textBaseline = 'alphabetic';
    ctx.fillStyle = '#000';
    ctx.fillText(opts.name, a.left + (opts.nameX || 9), a.bottom - 9);
    // y title
    const cy = (a.top + a.bottom) / 2;
    drawYTitle(ctx, opts.left ? 23.5 : 330.5, cy);
    ctx.restore();
  }
};

const wrap = document.getElementById('wrap');

panels.forEach(p => {
  const left = p.col === 0;
  const bottom = p.row === 3;
  const w = 354, h = bottom ? 156 : 125;
  const canvas = document.createElement('canvas');
  canvas.width = w;
  canvas.height = h;
  canvas.style.width = w + 'px';
  canvas.style.height = h + 'px';
  canvas.style.left = (p.col * 354) + 'px';
  canvas.style.top = (p.row * 125) + 'px';
  wrap.appendChild(canvas);

  const pts = arr => arr.map((v, i) => ({ x: residues[i], y: v }));

  new Chart(canvas, {
    type: 'line',
    data: {
      datasets: [
        { label: 'no BME', data: pts(p.noBme), borderColor: '#1f77b4', borderWidth: 2.2, order: 3 },
        { label: 'BME', data: pts(p.bme), borderColor: '#d62728', borderWidth: 2.2, order: 2 },
        { label: p.refLabel, data: pts(p.ref), borderColor: '#808080', borderWidth: 2.6, order: 1 },
        { label: 'Exp', data: pts(p.exp), borderColor: '#000000', borderWidth: 2.2, order: 0 }
      ]
    },
    options: {
      responsive: false,
      animation: false,
      devicePixelRatio: 1,
      spanGaps: false,
      layout: { padding: { top: 18, bottom: 0, left: left ? 0 : 8, right: left ? 11 : 0 } },
      elements: {
        point: { radius: 0, hoverRadius: 0 },
        line: { tension: 0, borderJoinStyle: 'round', fill: false }
      },
      plugins: {
        legend: { display: false },
        tooltip: { enabled: false },
        panelDecor: { name: p.name, nameX: p.nameX, left: left }
      },
      scales: {
        x: {
          type: 'linear',
          min: left ? 54.4 : 52.7,
          max: left ? 242.9 : 244.1,
          afterBuildTicks: s => { s.ticks = xTicks.map(v => ({ value: v })); },
          afterFit: s => { s.height = bottom ? 52 : 21; },
          ticks: { padding: 3, maxRotation: 0, autoSkip: false },
          grid: { drawOnChartArea: false, drawTicks: true, tickLength: 4, tickColor: '#222', tickWidth: 1 },
          border: { display: false },
          title: { display: bottom, text: 'Residue #', font: { size: 12 }, padding: { top: 2, bottom: 14 } }
        },
        y: {
          position: left ? 'left' : 'right',
          min: 0,
          max: 1.5,
          afterBuildTicks: s => { s.ticks = yTicks.map(v => ({ value: v })); },
          afterFit: s => { s.width = left ? 64 : 65; },
          ticks: { padding: 3, callback: v => Number(v).toFixed(1) },
          grid: { drawOnChartArea: false, drawTicks: true, tickLength: 4, tickColor: '#222', tickWidth: 1 },
          border: { display: false }
        }
      }
    },
    plugins: [panelDecor]
  });
});
</script>
</body>
</html>
